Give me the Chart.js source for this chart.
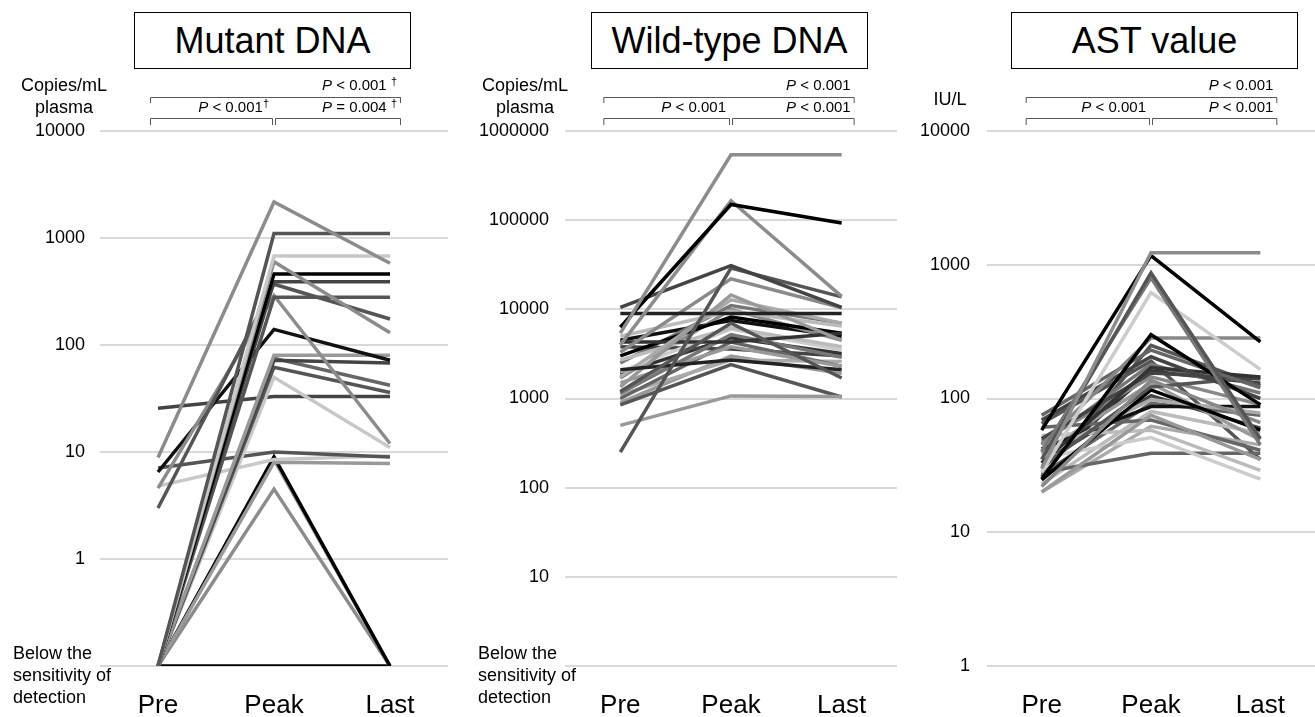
<!DOCTYPE html>
<html>
<head>
<meta charset="utf-8">
<script src="https://cdn.jsdelivr.net/npm/chart.js@4.4.1/dist/chart.umd.min.js"></script>
<style>
  body { margin: 0; background: #fff; }
  #wrap { position: relative; width: 1315px; height: 717px; overflow: hidden; font-family: "Liberation Sans", Arial, sans-serif; }
  canvas { position: absolute; top: 0; }
  .title {
    position: absolute; top: 12px; height: 57px;
    border: 1.5px solid #000; box-sizing: border-box;
    display: flex; align-items: center; justify-content: center;
    font-size: 36px; color: #000; background: #fff;
  }
</style>
</head>
<body>
<div id="wrap">
  <canvas id="c1" width="448" height="717" style="left:0px"></canvas>
  <canvas id="c2" width="449" height="717" style="left:448px"></canvas>
  <canvas id="c3" width="418" height="717" style="left:897px"></canvas>
  <div class="title" style="left:134px;width:277px">Mutant DNA</div>
  <div class="title" style="left:591px;width:277px">Wild-type DNA</div>
  <div class="title" style="left:1011px;width:287px">AST value</div>
</div>
<script>
const timepoints = ['Pre', 'Peak', 'Last'];
const belowLabel = ['Below the', 'sensitivity of', 'detection'];

// Mutant DNA, copies/mL plasma (0.1 = below the sensitivity of detection)
const mutantPre  = [8.9, 0.1, 0.1, 0.1, 0.1, 0.1, 3.0, 0.1, 4.6, 6.5, 0.1, 0.1, 0.1, 0.1, 0.1, 25.7, 7.1, 4.8, 0.1, 0.1, 0.1, 0.1, 0.1];
const mutantPeak = [2170, 1100, 680, 600, 460, 390, 370, 280, 290, 140, 80, 72, 62, 75, 50, 33, 10, 8.5, 8, 9, 8.5, 4.5, 0.1];
const mutantLast = [580, 1100, 680, 130, 460, 390, 175, 280, 12, 72, 80, 68, 36, 42, 11, 33, 9, 9.2, 7.8, 0.1, 0.1, 0.1, 0.1];
const mutantShades = ['#8c8c8c', '#555', '#c8c8c8', '#8c8c8c', '#000', '#444', '#555', '#555', '#8c8c8c', '#111', '#999', '#444',
                      '#555', '#666', '#c8c8c8', '#444', '#555', '#c8c8c8', '#999', '#000', '#999', '#8c8c8c', '#000'];
const mutantTicks = [0.1, 1, 10, 100, 1000, 10000];
const mutantUnit = ['Copies/mL', 'plasma'];
const mutantP = ['P < 0.001 †', 'P < 0.001†', 'P = 0.004 †'];

// Wild-type DNA, copies/mL plasma
const wildPre  = [5400, 6300, 4000, 10500, 250, 9000, 500, 1200, 2100, 1350, 1750, 3300, 4300, 2700, 1150, 850, 3000, 1500, 2000, 1000, 5000, 3800, 1700, 1100, 2500, 4500, 900, 1900];
const wildPeak = [540000, 150000, 165000, 31000, 29000, 9000, 1070, 7000, 2700, 14500, 12800, 22000, 4300, 6200, 5200, 2400, 8200, 3800, 6000, 4300, 9500, 3600, 10000, 2700, 11000, 7500, 3000, 4800];
const wildLast = [540000, 93000, 14000, 10500, 13800, 9000, 1050, 1700, 2100, 4500, 7000, 10400, 5400, 3800, 2900, 1040, 5400, 2300, 3500, 2300, 6500, 3000, 4500, 2600, 7000, 5000, 1900, 3200];
const wildShades = ['#8c8c8c', '#000', '#8c8c8c', '#444', '#555', '#222', '#999', '#555', '#222', '#999', '#aaa', '#8a8a8a', '#333', '#bbb',
                    '#777', '#555', '#000', '#999', '#ccc', '#666', '#bbb', '#444', '#888', '#aaa', '#777', '#111', '#999', '#333'];
const wildTicks = [1, 10, 100, 1000, 10000, 100000, 1000000];
const wildUnit = ['Copies/mL', 'plasma'];
const wildP = ['P < 0.001', 'P < 0.001', 'P < 0.001'];

// AST, IU/L
const astPre  = [30, 58, 35, 40, 28, 25, 45, 75, 69, 33, 50, 22, 31, 24.6, 38, 42, 20, 61, 53, 36, 28, 46, 26, 39, 20, 33, 48, 23, 30, 27, 65];
const astPeak = [1230, 1170, 870, 800, 620, 300, 283, 230, 205, 170, 155, 137, 122, 116, 98, 87, 75, 69, 58, 51, 39, 180, 250, 130, 62, 105, 145, 80, 160, 92, 190];
const astLast = [1230, 265, 50, 45, 165, 90, 283, 120, 100, 145, 140, 66, 145, 58, 78, 87, 35, 41, 29, 25, 39, 110, 125, 49, 45, 60, 90, 55, 130, 75, 35];
const astShades = ['#8c8c8c', '#000', '#555', '#777', '#ccc', '#000', '#888', '#666', '#444', '#333', '#444', '#888', '#555', '#000', '#aaa', '#111',
                   '#999', '#666', '#bbb', '#ccc', '#666', '#777', '#555', '#999', '#aaa', '#444', '#888', '#bbb', '#333', '#666', '#555'];
const astTicks = [1, 10, 100, 1000, 10000];
const astUnit = ['IU/L'];
const astP = ['P < 0.001', 'P < 0.001', 'P < 0.001'];

const FONT = '"Liberation Sans", Arial, sans-serif';

function drawP(ctx, str, right, y) {
  // italic P, plain rest, small raised dagger
  const rest = str.slice(1).replace('†', '');
  const dagger = str.includes('†');
  ctx.font = 'italic 15px ' + FONT;
  const wP = ctx.measureText('P').width;
  ctx.font = '15px ' + FONT;
  const wR = ctx.measureText(rest).width;
  ctx.font = '11px ' + FONT;
  const wD = dagger ? ctx.measureText('†').width : 0;
  let x = right - wP - wR - wD;
  ctx.textAlign = 'left';
  ctx.textBaseline = 'middle';
  ctx.fillStyle = '#000';
  ctx.font = 'italic 15px ' + FONT;
  ctx.fillText('P', x, y);
  x += wP;
  ctx.font = '15px ' + FONT;
  ctx.fillText(rest, x, y);
  x += wR;
  if (dagger) {
    ctx.font = '11px ' + FONT;
    ctx.fillText('†', x, y - 4);
  }
}

const panelDecor = {
  id: 'panelDecor',
  afterDraw(chart, args, o) {
    const ctx = chart.ctx;
    const xs = chart.scales.x, ys = chart.scales.y;
    const xPre = xs.getPixelForValue(0), xPeak = xs.getPixelForValue(1), xLast = xs.getPixelForValue(2);
    const l = xPre + o.bl, r = xLast + o.br;
    ctx.save();
    // brackets
    ctx.strokeStyle = '#555';
    ctx.lineWidth = 1;
    ctx.beginPath();
    ctx.moveTo(l + 0.5, 103); ctx.lineTo(l + 0.5, 97.5); ctx.lineTo(r + 0.5, 97.5); ctx.lineTo(r + 0.5, 103);
    ctx.moveTo(l + 0.5, 125); ctx.lineTo(l + 0.5, 118.5); ctx.lineTo(xPeak - 1.5, 118.5); ctx.lineTo(xPeak - 1.5, 125);
    ctx.moveTo(xPeak + 1.5, 125); ctx.lineTo(xPeak + 1.5, 118.5); ctx.lineTo(r + 0.5, 118.5); ctx.lineTo(r + 0.5, 125);
    ctx.stroke();
    drawP(ctx, o.p[0], r - 3, 86);
    drawP(ctx, o.p[1], xPeak - 5, 108);
    drawP(ctx, o.p[2], r - 3, 108);
    // unit label
    ctx.font = '18px ' + FONT;
    ctx.fillStyle = '#000';
    ctx.textAlign = 'center';
    ctx.textBaseline = 'middle';
    o.unit.forEach((t, i) => ctx.fillText(t, o.unitX, o.unitY + i * 22));
    // below-detection label
    if (o.below) {
      const yb = ys.getPixelForValue(ys.min);
      ctx.textAlign = 'left';
      belowLabel.forEach((t, i) => ctx.fillText(t, o.belowX, yb - 12 + i * 22));
    }
    ctx.restore();
  }
};

function makePanel(id, pre, peak, last, shades, ticks, deco, yWidth, tickPad) {
  const datasets = pre.map((v, i) => ({
    data: [v, peak[i], last[i]],
    borderColor: shades[i],
    borderWidth: 3.5,
    pointRadius: 0,
    tension: 0,
    fill: false
  }));
  const lo = ticks[0], hi = ticks[ticks.length - 1];
  return new Chart(document.getElementById(id), {
    type: 'line',
    data: { labels: timepoints, datasets },
    plugins: [panelDecor],
    options: {
      responsive: false,
      animation: false,
      devicePixelRatio: 1,
      layout: { padding: { top: 131, right: 0, bottom: 0, left: 0 } },
      plugins: { legend: { display: false }, tooltip: { enabled: false }, panelDecor: deco },
      scales: {
        x: {
          type: 'category',
          offset: true,
          grid: { display: false },
          border: { display: false },
          ticks: { color: '#000', font: { family: FONT, size: 26 }, padding: 16 },
          afterFit(s) { s.height = 51; }
        },
        y: {
          type: 'logarithmic',
          min: lo,
          max: hi,
          grid: { color: '#d9d9d9', lineWidth: 2, drawTicks: false },
          border: { display: false },
          afterBuildTicks(s) { s.ticks = ticks.map(v => ({ value: v })); },
          afterFit(s) { s.width = yWidth; },
          ticks: {
            color: '#000',
            font: { family: FONT, size: 18 },
            padding: tickPad,
            callback: (v) => (deco.below && v === lo) ? '' : String(v)
          }
        }
      }
    }
  });
}

makePanel('c1', mutantPre, mutantPeak, mutantLast, mutantShades, mutantTicks,
  { p: mutantP, unit: mutantUnit, unitX: 64, unitY: 86, below: true, belowX: 13, bl: -8, br: 10 }, 100, 15);
makePanel('c2', wildPre, wildPeak, wildLast, wildShades, wildTicks,
  { p: wildP, unit: wildUnit, unitX: 77, unitY: 86, below: true, belowX: 30, bl: -17, br: 12 }, 117, 16);
makePanel('c3', astPre, astPeak, astLast, astShades, astTicks,
  { p: astP, unit: astUnit, unitX: 53, unitY: 100, below: false, belowX: 0, bl: -16, br: 16 }, 90, 17);
</script>
</body>
</html>
